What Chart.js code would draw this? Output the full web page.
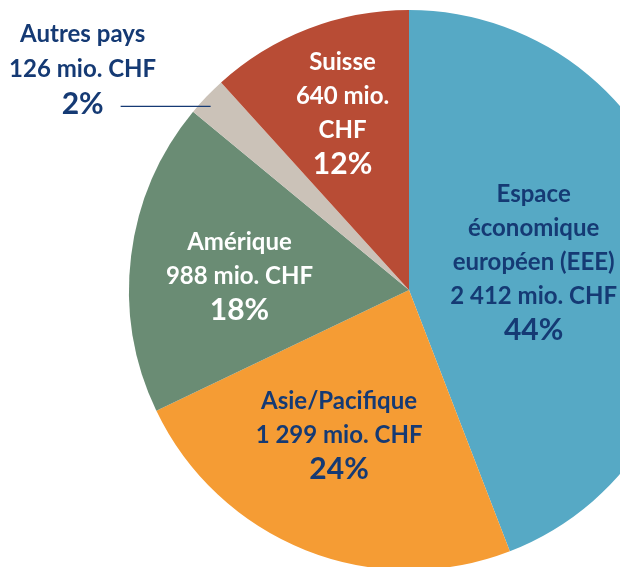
<!DOCTYPE html>
<html>
<head>
<meta charset="utf-8">
<script src="https://cdn.jsdelivr.net/npm/chart.js@4"></script>
<style>
  html, body { margin: 0; padding: 0; background: #fff; }
  #wrap { position: relative; width: 620px; height: 567px; overflow: hidden; }
  #chart-pie { position: absolute; left: 0; top: 0; }
</style>
</head>
<body>
<div id="wrap"><canvas id="chart-pie" width="818" height="580"></canvas></div>
<script>
// data, clockwise from 12 o'clock
var categories = ["Espace économique européen (EEE)", "Asie/Pacifique", "Amérique", "Autres pays", "Suisse"];
var values = [2412, 1299, 988, 126, 640];
var percents = [44, 24, 18, 2, 12];
var nameLines = [["Espace", "économique", "européen (EEE)"], ["Asie/Pacifique"], ["Amérique"], ["Autres pays"], ["Suisse"]];

var colors = ["#56a9c5", "#f59c34", "#6a8c74", "#cbc2b8", "#b84c35"];
var navy = "#153a74";
var textColors = [navy, navy, "#ffffff", navy, "#ffffff"];

// label placement: fraction of radius along mid angle + pixel nudge, or outside with leader line
var labelPos = [
    { frac: 0.46, dx: -2, dy: -4 },
    { frac: 0.57, dx: -11, dy: -3 },
    { frac: 0.61, dx: 0, dy: 7 },
    { outside: true, lineLen: 90, dx: -4 },
    { frac: 0.68, dx: 2, dy: 1 }
];

function fmtValue(v) {
    return v.toString().replace(/\B(?=(\d{3})+(?!\d))/g, " ") + " mio. CHF";
}

var labelPlugin = {
    id: "sliceLabels",
    afterDraw: function (chart) {
        var ctx = chart.ctx;
        var meta = chart.getDatasetMeta(0);
        var lh = 34;
        meta.data.forEach(function (arc, i) {
            var p = arc.getProps(["x", "y", "startAngle", "endAngle", "outerRadius"], true);
            var mid = (p.startAngle + p.endAngle) / 2;
            var lines = nameLines[i].slice();
            if (i === 4) {
                lines.push(values[i] + " mio.", "CHF");
            } else {
                lines.push(fmtValue(values[i]));
            }
            var all = lines.concat([percents[i] + "%"]);
            var cx, y0;
            ctx.save();
            ctx.textAlign = "center";
            ctx.textBaseline = "middle";
            ctx.fillStyle = textColors[i];
            if (labelPos[i].outside) {
                var ex = p.x + Math.cos(mid) * p.outerRadius * 0.96 + labelPos[i].dx;
                var ey = p.y + Math.sin(mid) * p.outerRadius * 0.96 + 2;
                ctx.strokeStyle = navy;
                ctx.lineWidth = 1.2;
                ctx.beginPath();
                ctx.moveTo(ex, ey);
                ctx.lineTo(ex - labelPos[i].lineLen, ey);
                ctx.stroke();
                // percent line sits at the leader line, name lines above it
                cx = ex - labelPos[i].lineLen - 38;
                y0 = ey - (all.length - 1) * 35;
                all.forEach(function (t, k) {
                    var isPct = k === all.length - 1;
                    ctx.font = isPct ? "bold 30px Lato" : "bold 24px Lato";
                    ctx.fillText(t, cx, y0 + k * 35 - 2);
                });
            } else {
                cx = p.x + Math.cos(mid) * p.outerRadius * labelPos[i].frac + labelPos[i].dx;
                var cy = p.y + Math.sin(mid) * p.outerRadius * labelPos[i].frac + labelPos[i].dy;
                y0 = cy - (all.length - 1) * lh / 2;
                all.forEach(function (t, k) {
                    var isPct = k === all.length - 1;
                    ctx.font = isPct ? "bold 30px Lato" : "bold 24px Lato";
                    ctx.fillText(t, cx, y0 + k * lh);
                });
            }
            ctx.restore();
        });
    }
};

var ctx = document.getElementById("chart-pie").getContext("2d");

new Chart(ctx, {
    type: "pie",
    data: {
        labels: categories,
        datasets: [{
            data: values,
            backgroundColor: colors,
            borderWidth: 0
        }]
    },
    options: {
        responsive: false,
        animation: false,
        layout: { padding: 10 },
        plugins: {
            legend: { display: false },
            tooltip: { enabled: false }
        }
    },
    plugins: [labelPlugin]
});
</script>
</body>
</html>
